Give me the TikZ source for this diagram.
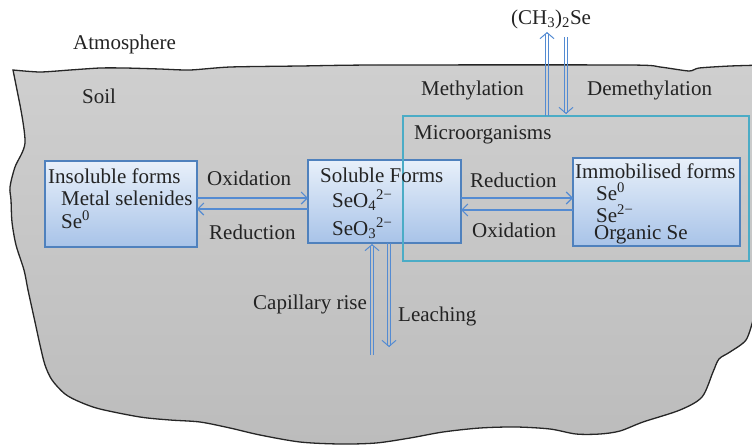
\documentclass[tikz,border=0pt]{standalone}
\usepackage{fontspec}
\setmainfont{Liberation Serif}
\usetikzlibrary{arrows.meta,calc}
\definecolor{arrcol}{RGB}{84,139,210}
\definecolor{boxline}{RGB}{79,129,189}
\definecolor{boxtop}{RGB}{232,240,250}
\definecolor{boxbot}{RGB}{168,195,232}
\definecolor{microcol}{RGB}{75,172,198}
\definecolor{soiltop}{RGB}{207,207,207}
\definecolor{soilbot}{RGB}{188,188,188}
\definecolor{txt}{RGB}{35,35,35}
\begin{document}
\begin{tikzpicture}[x=1pt,y=-1pt,
 lbl/.style={anchor=base west, inner sep=0pt, text=txt, font=\fontsize{21}{24}\selectfont},
 formbox/.style={draw=boxline, line width=1.2pt, top color=boxtop, bottom color=boxbot, inner sep=0pt, outer sep=0pt},
 microbox/.style={draw=microcol, line width=1.2pt, inner sep=0pt, outer sep=0pt},
 arr/.style={draw=arrcol, line width=1.1pt, -{Straight Barb[length=6pt,width=12pt]}},
 dside/.style={draw=arrcol, line width=1pt},
 dtip/.style={draw=arrcol, line width=1pt, -{Straight Barb[length=6pt,width=14pt]}},
 soilline/.style={draw=black!85, line width=1.3pt, top color=soiltop, bottom color=soilbot}
]
\useasboundingbox (0,0) rectangle (752,445);
\clip (0,0) rectangle (752,445);

% soil
\path[soilline]
 plot[smooth, tension=0.4] coordinates {(13,70) (40,72) (70,70) (100,68) (125,68) (160,69) (190,70) (230,67) (300,66) (376,65) (629,65) (660,67) (689,71) (699,68) (730,66) (765,65)}
 -- (765,300) -- plot[smooth, tension=0.5] coordinates {(753,320) (746,340) (730,352) (719,359) (713,372) (702,397) (680,410) (643,422) (620,431) (600,434) (576,434) (550,429) (516,427) (480,428) (443,432) (410,438) (376,443) (340,444) (300,442) (260,435) (230,428) (200,422) (170,420) (140,417) (100,409) (80,402) (65,394) (52,380) (45,365) (40,345) (35,322) (28,290) (24,270) (16,245) (12,222) (11,200) (10,187) (15,167) (25,143) (20,105)} -- cycle;

% boxes
\node[formbox, minimum width=152pt, minimum height=86pt] (ins) at (121,204) {};
\node[formbox, minimum width=153pt, minimum height=83pt] (sol) at (384.5,201.5) {};
\node[formbox, minimum width=167pt, minimum height=88pt] (imm) at (656.5,202) {};
\node[microbox, minimum width=346pt, minimum height=145pt] (micro) at (576,188.5) {};

% horizontal arrows
\draw[arr] ([yshift=6pt]ins.east) -- ([yshift=6pt]ins.east -| sol.west);
\draw[arr] ([yshift=-5pt]ins.east -| sol.west) -- ([yshift=-5pt]ins.east);
\draw[arr] ([yshift=3.5pt]sol.east) -- ([yshift=3.5pt]sol.east -| imm.west);
\draw[arr] ([yshift=-8.5pt]sol.east -| imm.west) -- ([yshift=-8.5pt]sol.east);

% methylation (up)
\coordinate (mtop) at (547,32);
\coordinate (mbot) at (mtop |- micro.north);
\draw[dside] ([xshift=-1.5pt]mbot) -- ([xshift=-1.5pt,yshift=-1.5pt]mtop);
\draw[dside] ([xshift=1.5pt]mbot) -- ([xshift=1.5pt,yshift=-1.5pt]mtop);
\draw[dtip] ([yshift=-1pt]mtop) -- (mtop);
% demethylation (down)
\coordinate (dtop) at (566,37);
\coordinate (dbot) at (dtop |- micro.north);
\draw[dside] ([xshift=-1.5pt]dtop) -- ([xshift=-1.5pt,yshift=3.5pt]dbot);
\draw[dside] ([xshift=1.5pt]dtop) -- ([xshift=1.5pt,yshift=3.5pt]dbot);
\draw[dtip] ([yshift=3pt]dbot) -- ([yshift=2pt]dbot);
% capillary rise (up)
\coordinate (cbot) at (372,355);
\coordinate (capex) at (cbot |- sol.south);
\draw[dside] ([xshift=-1.5pt]cbot) -- ([xshift=-1.5pt,yshift=-2.5pt]capex);
\draw[dside] ([xshift=1.5pt]cbot) -- ([xshift=1.5pt,yshift=-2.5pt]capex);
\draw[dtip] ([yshift=-2pt]capex) -- ([yshift=-1pt]capex);
% leaching (down)
\coordinate (lbot) at (389,347);
\coordinate (ltop) at (lbot |- sol.south);
\draw[dside] ([xshift=-1.5pt]ltop) -- ([xshift=-1.5pt,yshift=1.5pt]lbot);
\draw[dside] ([xshift=1.5pt]ltop) -- ([xshift=1.5pt,yshift=1.5pt]lbot);
\draw[dtip] ([yshift=1pt]lbot) -- (lbot);

% labels
\node[lbl] (atm) at (73,49) {Atmosphere};
\node[lbl] (soil) at (82,103) {Soil};
\node[lbl] (ch3) at (511,24) {(CH\textsubscript{3})\textsubscript{2}Se};
\node[lbl] (meth) at (421,95) {Methylation};
\node[lbl] (demeth) at (587,95) {Demethylation};
\node[lbl] (microlbl) at (414,139) {Microorganisms};
\node[lbl] (ins1) at (48,183) {Insoluble forms};
\node[lbl] (ins2) at (61,205) {Metal selenides};
\node[lbl] (ins3) at (61,228) {Se\textsuperscript{0}};
\node[lbl] (ox1) at (207,185) {Oxidation};
\node[lbl] (red1) at (209,239) {Reduction};
\node[lbl] (sol1) at (320,182) {Soluble Forms};
\node[lbl] (sol2) at (332,207) {SeO\textsubscript{4}\textsuperscript{2−}};
\node[lbl] (sol3) at (332,235) {SeO\textsubscript{3}\textsuperscript{2−}};
\node[lbl] (red2) at (470,187) {Reduction};
\node[lbl] (ox2) at (472,237) {Oxidation};
\node[lbl] (imm1) at (575,178) {Immobilised forms};
\node[lbl] (imm2) at (596,200) {Se\textsuperscript{0}};
\node[lbl] (imm3) at (596,222) {Se\textsuperscript{2−}};
\node[lbl] (imm4) at (594,239) {Organic Se};
\node[lbl] (cap) at (253,309) {Capillary rise};
\node[lbl] (leach) at (398,321) {Leaching};
\end{tikzpicture}
\end{document}
